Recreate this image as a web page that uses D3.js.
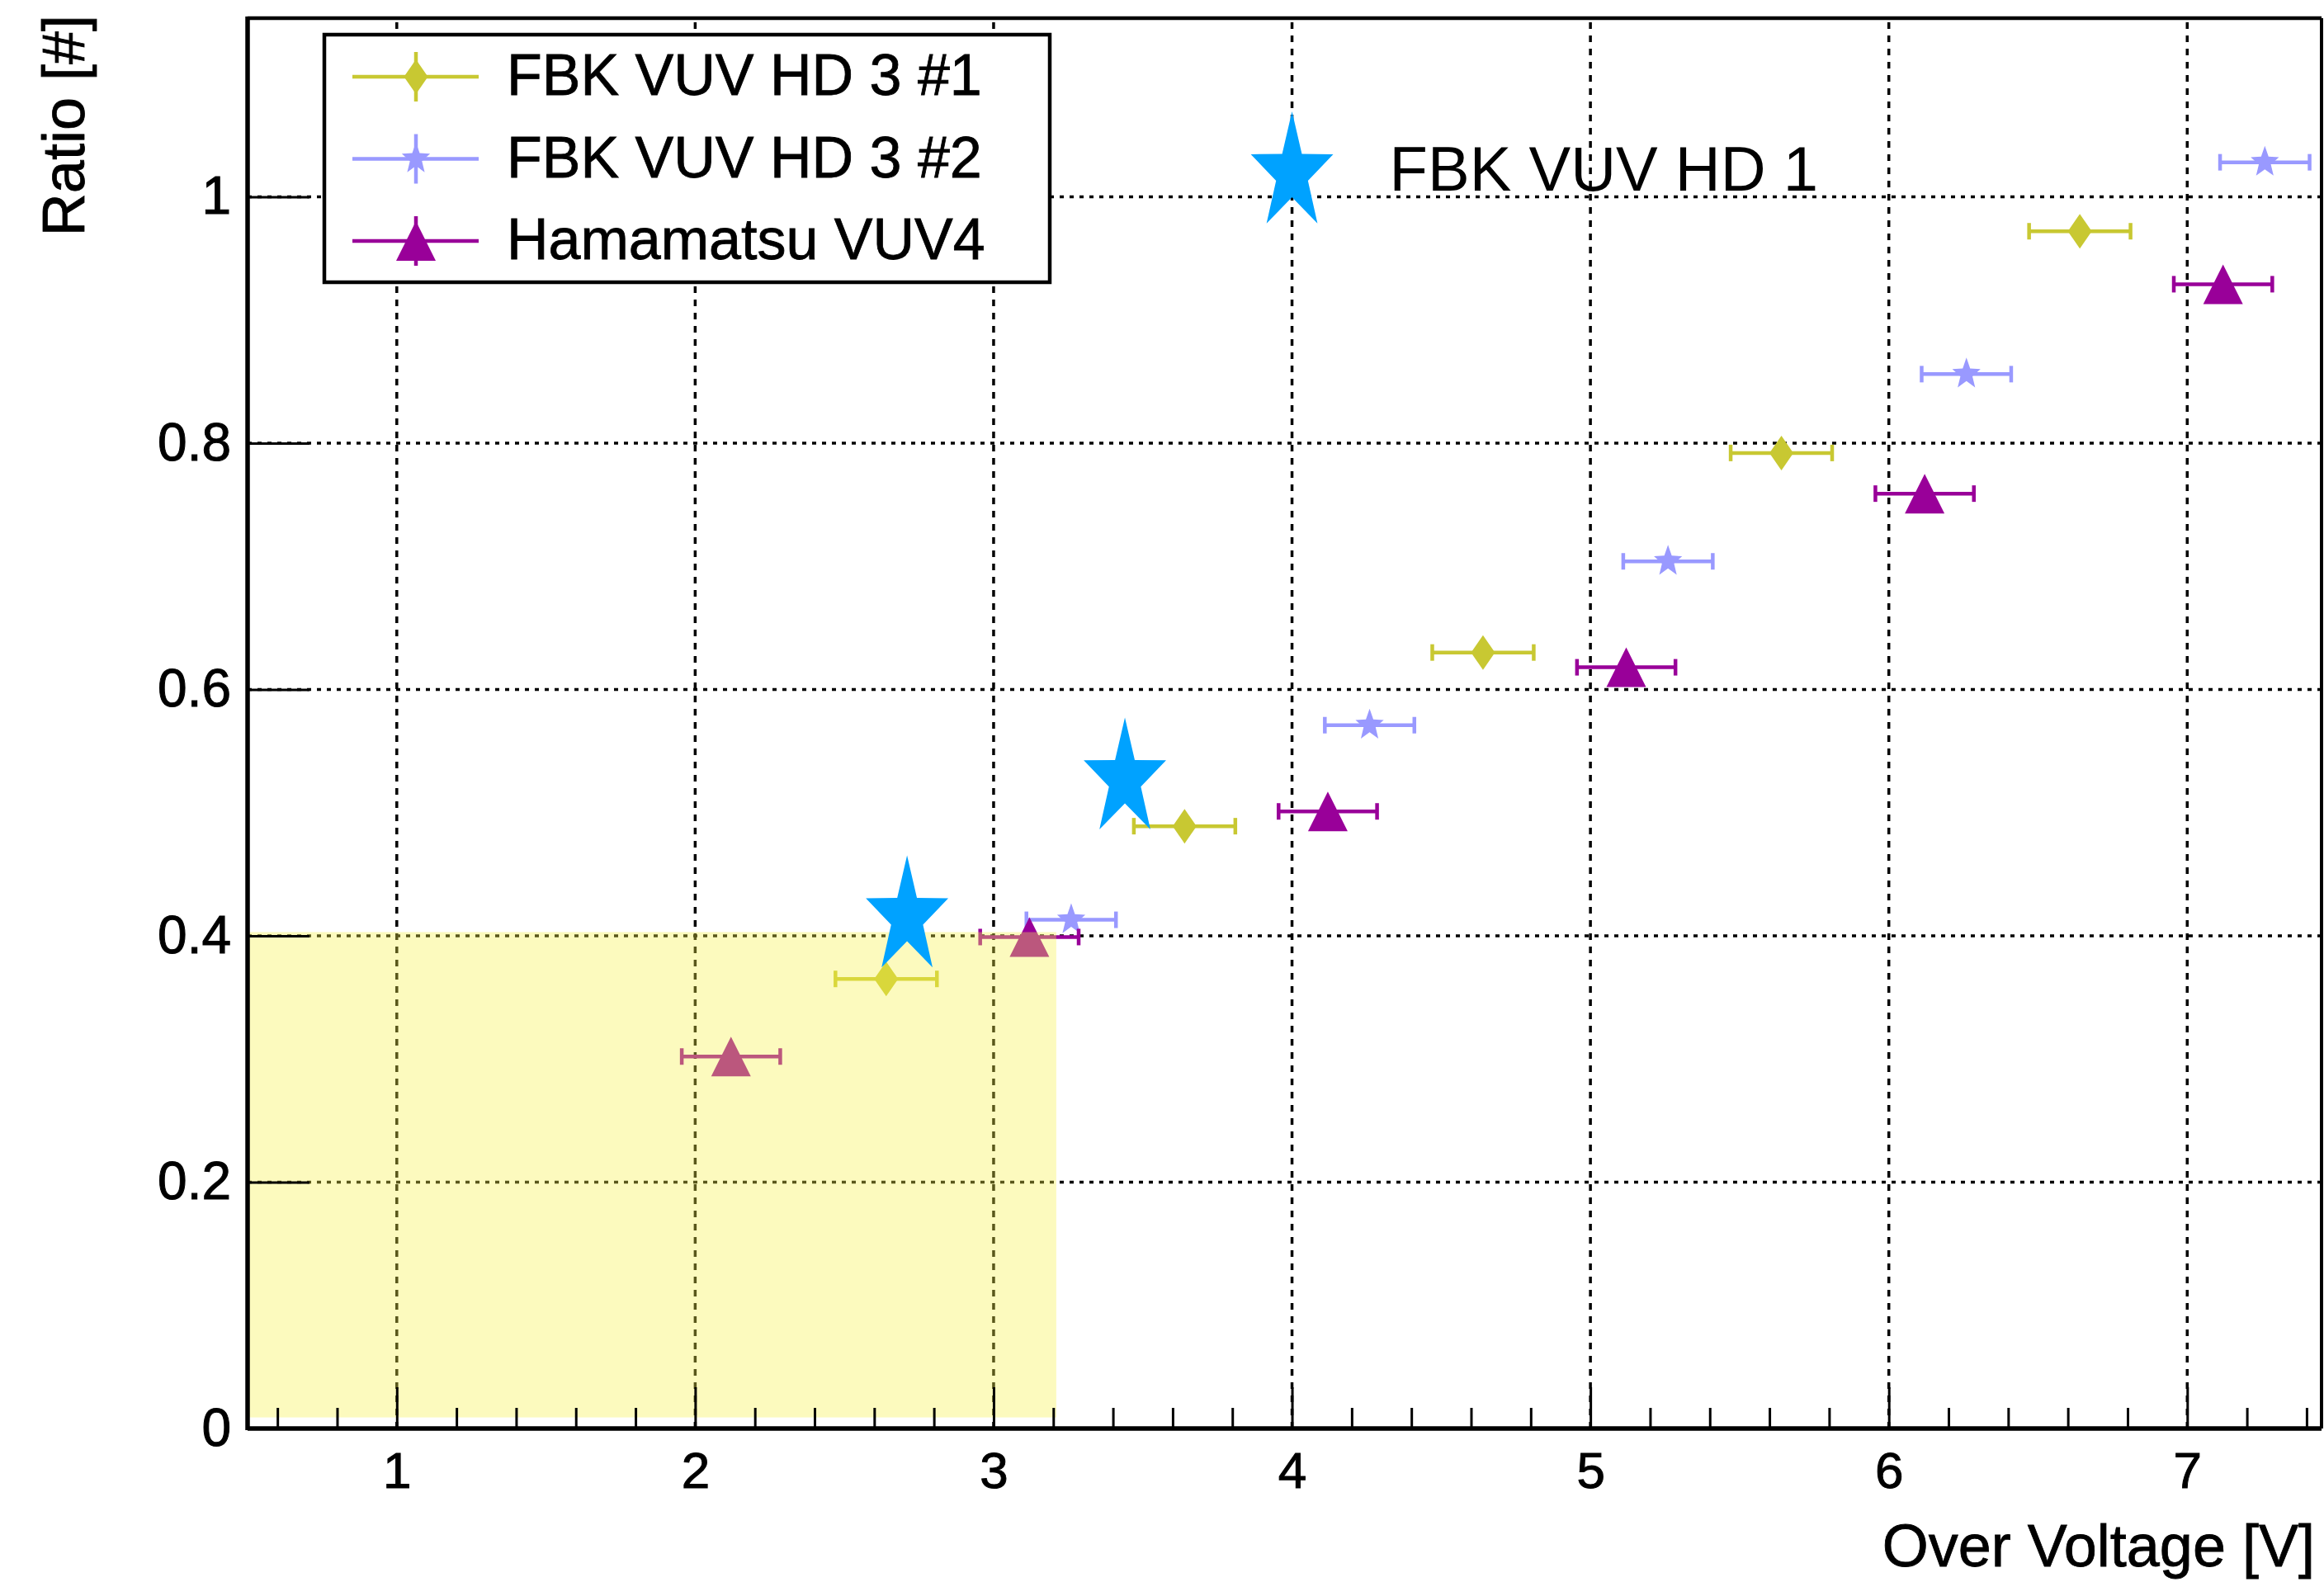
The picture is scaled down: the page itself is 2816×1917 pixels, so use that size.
<!DOCTYPE html>
<html>
<head>
<meta charset="utf-8">
<script src="https://cdn.jsdelivr.net/npm/d3@7"></script>
<style>
  html, body { margin: 0; padding: 0; background: #ffffff; }
  svg { display: block; font-family: "Liberation Sans", Arial, Helvetica, sans-serif; }
</style>
</head>
<body>
<div id="plot"></div>
<script>
"use strict";

// FBK VUV HD 3 #1
const fbk1Voltage = [2.64, 3.64, 4.64, 5.64, 6.64];
const fbk1Ratio = [0.365, 0.489, 0.630, 0.792, 0.972];
const fbk1Error = [0.17, 0.17, 0.17, 0.17, 0.17];

// FBK VUV HD 3 #2
const fbk2Voltage = [3.26, 4.26, 5.26, 6.26, 7.26];
const fbk2Ratio = [0.413, 0.571, 0.704, 0.856, 1.028];
const fbk2Error = [0.15, 0.15, 0.15, 0.15, 0.15];

// Hamamatsu VUV4
const hamaVoltage = [2.12, 3.12, 4.12, 5.12, 6.12, 7.12];
const hamaRatio = [0.302, 0.399, 0.501, 0.618, 0.759, 0.929];
const hamaError = [0.165, 0.165, 0.165, 0.165, 0.165, 0.165];

// FBK VUV HD 1 (big stars) + the annotation star
const hd1Voltage = [2.71, 3.44];
const hd1Ratio = [0.415, 0.527];
const hd1Label = 'FBK VUV HD 1';
const hd1NoteVoltage = 4.0;
const hd1NoteRatio = 1.019;

// shaded region
const bandVoltage = [0.5, 3.21];
const bandRatio = [0.009, 0.403];

const legendNames = ['FBK VUV HD 3 #1', 'FBK VUV HD 3 #2', 'Hamamatsu VUV4'];
const xTicks = [1, 2, 3, 4, 5, 6, 7];
const yTicks = [0, 0.2, 0.4, 0.6, 0.8, 1];
const xTitle = 'Over Voltage [V]';
const yTitle = 'Ratio [#]';

(function () {
  window.onload = function () {
    draw();
  };

  function starPath(R, r, sx) {
    let pts = [];
    for (let i = 0; i < 10; i++) {
      let rad = (i % 2 === 0) ? R : r;
      let a = Math.PI * i / 5;
      pts.push([rad * Math.sin(a) * sx, -rad * Math.cos(a)]);
    }
    return 'M' + pts.map(p => p[0].toFixed(2) + ',' + p[1].toFixed(2)).join('L') + 'Z';
  }

  function diamondPath(w, h) {
    return 'M0,' + (-h / 2) + 'L' + (w / 2) + ',0L0,' + (h / 2) + 'L' + (-w / 2) + ',0Z';
  }

  function trianglePath(w, h) {
    return 'M0,' + (-h / 2) + 'L' + (w / 2) + ',' + (h / 2) + 'L' + (-w / 2) + ',' + (h / 2) + 'Z';
  }

  function draw() {
    let width = 2816;
    let height = 1917;

    let svg = d3.select('#plot').append('svg')
      .attr('width', width)
      .attr('height', height);

    let x = d3.scaleLinear().domain([0.5, 7.45]).range([300, 2813]);
    let y = d3.scaleLinear().domain([0, 1.145]).range([1731, 22]);

    let series = [
      { name: legendNames[0], xs: fbk1Voltage, ys: fbk1Ratio, es: fbk1Error, color: '#c8c832', shape: diamondPath(29, 42) },
      { name: legendNames[1], xs: fbk2Voltage, ys: fbk2Ratio, es: fbk2Error, color: '#9999ff', shape: starPath(20, 8.5, 0.9) },
      { name: legendNames[2], xs: hamaVoltage, ys: hamaRatio, es: hamaError, color: '#990099', shape: trianglePath(48, 48) }
    ];

    // grid
    let grid = svg.append('g').attr('class', 'grid');
    grid.selectAll('line.vgrid')
      .data(xTicks)
      .enter()
      .append('line')
      .attr('class', 'vgrid')
      .attr('x1', d => x(d))
      .attr('x2', d => x(d))
      .attr('y1', y.range()[0])
      .attr('y2', y.range()[1])
      .style('stroke', '#000')
      .style('stroke-width', 3.5)
      .style('stroke-dasharray', '8,8');

    grid.selectAll('line.hgrid')
      .data(yTicks.filter(d => d > 0))
      .enter()
      .append('line')
      .attr('class', 'hgrid')
      .attr('x1', x.range()[0])
      .attr('x2', x.range()[1])
      .attr('y1', d => y(d))
      .attr('y2', d => y(d))
      .style('stroke', '#000')
      .style('stroke-width', 3.5)
      .style('stroke-dasharray', '5,7');

    // data series with horizontal error bars
    series.forEach(function (s) {
      let pts = s.xs.map((v, i) => ({ v: v, r: s.ys[i], e: s.es[i] }));
      let g = svg.append('g').attr('class', 'series');

      g.selectAll('line.err')
        .data(pts)
        .enter()
        .append('line')
        .attr('class', 'err')
        .attr('x1', d => x(d.v - d.e))
        .attr('x2', d => x(d.v + d.e))
        .attr('y1', d => y(d.r))
        .attr('y2', d => y(d.r))
        .style('stroke', s.color)
        .style('stroke-width', 4.5);

      g.selectAll('line.capl')
        .data(pts)
        .enter()
        .append('line')
        .attr('class', 'capl')
        .attr('x1', d => x(d.v - d.e))
        .attr('x2', d => x(d.v - d.e))
        .attr('y1', d => y(d.r) - 10)
        .attr('y2', d => y(d.r) + 10)
        .style('stroke', s.color)
        .style('stroke-width', 4.5);

      g.selectAll('line.capr')
        .data(pts)
        .enter()
        .append('line')
        .attr('class', 'capr')
        .attr('x1', d => x(d.v + d.e))
        .attr('x2', d => x(d.v + d.e))
        .attr('y1', d => y(d.r) - 10)
        .attr('y2', d => y(d.r) + 10)
        .style('stroke', s.color)
        .style('stroke-width', 4.5);

      g.selectAll('path.marker')
        .data(pts)
        .enter()
        .append('path')
        .attr('class', 'marker')
        .attr('d', s.shape)
        .attr('transform', d => 'translate(' + x(d.v) + ',' + y(d.r) + ')')
        .style('fill', s.color);
    });

    // yellow band lies over the markers
    svg.append('rect')
      .attr('class', 'band')
      .attr('x', x(bandVoltage[0]))
      .attr('y', y(bandRatio[1]))
      .attr('width', x(bandVoltage[1]) - x(bandVoltage[0]))
      .attr('height', y(bandRatio[0]) - y(bandRatio[1]))
      .style('fill', '#f7f04c')
      .style('opacity', 0.36);

    // big blue stars
    let bigStar = starPath(75, 29, 0.7);
    svg.selectAll('path.hd1')
      .data(hd1Voltage.map((v, i) => [v, hd1Ratio[i]]).concat([[hd1NoteVoltage, hd1NoteRatio]]))
      .enter()
      .append('path')
      .attr('class', 'hd1')
      .attr('d', bigStar)
      .attr('transform', d => 'translate(' + x(d[0]) + ',' + y(d[1]) + ')')
      .style('fill', '#00a2ff');

    svg.append('text')
      .attr('x', x(hd1NoteVoltage) + 118)
      .attr('y', y(hd1NoteRatio) + 21)
      .style('font-size', '76px')
      .style('fill', '#000')
      .text(hd1Label);

    // axes
    let xAxis = d3.axisBottom(x)
      .tickValues(xTicks)
      .tickSizeInner(-50)
      .tickSizeOuter(0)
      .tickPadding(28)
      .tickFormat(d3.format('d'));

    let minorTicks = d3.range(6, 75, 2).map(d => d / 10).filter(d => d % 1 !== 0);
    let xMinor = d3.axisBottom(x)
      .tickValues(minorTicks)
      .tickSizeInner(-25)
      .tickSizeOuter(0)
      .tickFormat('');

    let yAxis = d3.axisLeft(y)
      .tickValues(yTicks)
      .tickSizeInner(-75)
      .tickSizeOuter(0)
      .tickPadding(20)
      .tickFormat(d3.format('~g'));

    let gx = svg.append('g')
      .attr('class', 'x axis')
      .attr('transform', 'translate(0,' + y.range()[0] + ')')
      .call(xAxis);
    svg.append('g')
      .attr('class', 'x minor')
      .attr('transform', 'translate(0,' + y.range()[0] + ')')
      .call(xMinor);
    let gy = svg.append('g')
      .attr('class', 'y axis')
      .attr('transform', 'translate(' + x.range()[0] + ',0)')
      .call(yAxis);

    svg.selectAll('.axis path, .minor path').remove();
    svg.selectAll('.axis line, .minor line')
      .style('stroke', '#000')
      .style('stroke-width', 3);
    svg.selectAll('.axis text')
      .style('fill', '#000')
      .style('stroke', '#000')
      .style('stroke-width', 1)
      .style('font-family', '"Liberation Sans", Arial, sans-serif');
    gx.selectAll('text').style('font-size', '62px');
    gy.selectAll('text').style('font-size', '64px');

    // frame
    let frame = svg.append('g').attr('class', 'frame');
    frame.append('line')
      .attr('x1', x.range()[0]).attr('x2', x.range()[1])
      .attr('y1', y.range()[1]).attr('y2', y.range()[1])
      .style('stroke', '#000').style('stroke-width', 4.5);
    frame.append('line')
      .attr('x1', x.range()[1]).attr('x2', x.range()[1])
      .attr('y1', y.range()[1]).attr('y2', y.range()[0])
      .style('stroke', '#000').style('stroke-width', 4);
    frame.append('line')
      .attr('x1', x.range()[0]).attr('x2', x.range()[1])
      .attr('y1', y.range()[0]).attr('y2', y.range()[0])
      .style('stroke', '#000').style('stroke-width', 5.5);
    frame.append('line')
      .attr('x1', x.range()[0]).attr('x2', x.range()[0])
      .attr('y1', y.range()[1] - 2).attr('y2', y.range()[0] + 2)
      .style('stroke', '#000').style('stroke-width', 5.5);

    // axis titles
    svg.append('text')
      .attr('class', 'axis-label')
      .attr('x', 2805)
      .attr('y', 1898)
      .style('text-anchor', 'end')
      .style('font-size', '72px')
      .style('stroke', '#000')
      .style('stroke-width', 0.8)
      .text(xTitle);

    svg.append('text')
      .attr('class', 'axis-label')
      .attr('transform', 'translate(102,18) rotate(-90)')
      .style('text-anchor', 'end')
      .style('font-size', '72px')
      .style('stroke', '#000')
      .style('stroke-width', 0.8)
      .text(yTitle);

    legend(svg, series);
  }

  function legend(svg, series) {
    let box = svg.append('g').attr('class', 'legend');
    box.append('rect')
      .attr('x', 393)
      .attr('y', 42)
      .attr('width', 879)
      .attr('height', 300)
      .style('fill', '#fff')
      .style('stroke', '#000')
      .style('stroke-width', 4.5);

    let rows = box.selectAll('g.entry')
      .data(series)
      .enter()
      .append('g')
      .attr('class', 'entry')
      .attr('transform', (d, i) => 'translate(504,' + (93 + i * 99.5) + ')');

    rows.append('line')
      .attr('x1', -77).attr('x2', 76)
      .attr('y1', 0).attr('y2', 0)
      .style('stroke', d => d.color)
      .style('stroke-width', 4.5);
    rows.append('line')
      .attr('x1', 0).attr('x2', 0)
      .attr('y1', -30).attr('y2', 30)
      .style('stroke', d => d.color)
      .style('stroke-width', 4.5);
    rows.append('path')
      .attr('d', d => d.shape)
      .style('fill', d => d.color);
    rows.append('text')
      .attr('x', 110)
      .attr('y', 22)
      .style('font-size', '70px')
      .style('fill', '#000')
      .style('stroke', '#000')
      .style('stroke-width', 0.8)
      .text(d => d.name);
  }
})();
</script>
</body>
</html>
